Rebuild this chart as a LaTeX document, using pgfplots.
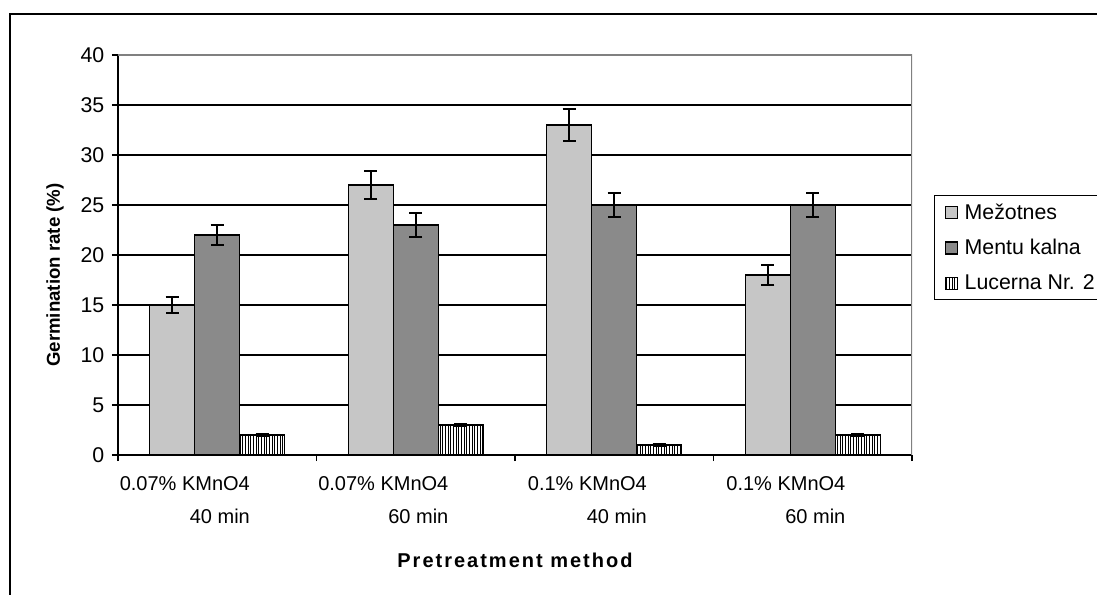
\documentclass[border=0pt]{standalone}
\usepackage{pgfplots}
\pgfplotsset{compat=1.18}
\usetikzlibrary{patterns.meta}
\usepackage{fontspec}
\setmainfont{Liberation Sans}
\definecolor{mezo}{HTML}{C6C6C6}
\definecolor{mentu}{HTML}{8A8A8A}
\newcommand\tfont{\fontsize{15}{24.5}\selectfont}
\newcommand\lfont{\fontsize{16}{19}\selectfont}

\begin{document}
\begin{tikzpicture}
\path[use as bounding box] (0,0) rectangle (822.75pt,-446.25pt);
\clip (0,0) rectangle (822.75pt,-446.25pt);
\fill[white] (0,0) rectangle (822.75pt,-446.25pt);
\draw[line width=1.5pt] (7.5pt,-10.5pt) rectangle (840pt,-460pt);
\begin{axis}[
  at={(88.5pt,-341.25pt)}, anchor=south west,
  scale only axis, width=595.5pt, height=300pt,
  xmin=-0.5, xmax=3.5, ymin=0, ymax=40,
  ybar=0pt, bar width=0.2267,
  axis lines=left,
  axis line style={-, black, line width=1.1pt},
  ytick={0,5,...,40},
  ymajorgrids, grid style={black, line width=1.1pt},
  tick align=outside, major tick length=4.5pt,
  tick style={black, line width=1.1pt},
  xtick={0,1,2,3},
  xticklabels={{0.07\% KMnO4\\40 min},{0.07\% KMnO4\\60 min},{0.1\% KMnO4\\40 min},{0.1\% KMnO4\\60 min}},
  xtick style={draw=none},
  extra x ticks={-0.5,0.5,1.5,2.5,3.5},
  extra x tick labels={},
  extra x tick style={xtick style={draw=black}},
  xticklabel style={align=right, anchor=north east, xshift=28pt, yshift=-8pt, font=\tfont},
  y tick label style={font=\lfont, xshift=-2.2pt},
  /pgf/number format/assume math mode=true,
  every axis x label/.style={at={(axis description cs:0.5,0)}, anchor=base, yshift=-84pt},
  every axis y label/.style={at={(axis description cs:0,0.45)}, rotate=90, anchor=base, yshift=43.5pt},
  xlabel={\fontsize{15}{18}\selectfont\bfseries\addfontfeature{LetterSpace=10}Pretreatment method},
  ylabel={\fontsize{14}{17}\selectfont\bfseries Germination rate (\%)},
  legend style={at={(1.0277,0.65)}, anchor=north west, draw=black, line width=1pt,
    font=\lfont, row sep=9.5pt, inner sep=4pt, legend cell align=left},
  legend image code/.code={\draw[#1, line width=0.9pt] (4pt,-4.5pt) rectangle (13pt,4.5pt);
    \pgfpathmoveto{\pgfpoint{0pt}{0pt}}\pgfpathlineto{\pgfpoint{16.5pt}{0pt}}\pgfusepath{discard}},
]
\addplot[fill=mezo, draw=black, line width=1.1pt,
  error bars/.cd, y dir=both, y explicit,
  error bar style={line width=1.2pt, black},
  error mark options={rotate=90, mark size=5pt, line width=1.2pt, black}]
  coordinates {(0,15) +- (0,0.8) (1,27) +- (0,1.4) (2,33) +- (0,1.6) (3,18) +- (0,1.0)};
\addlegendentry{Mežotnes}
\addplot[fill=mentu, draw=black, line width=1.1pt,
  error bars/.cd, y dir=both, y explicit,
  error bar style={line width=1.2pt, black},
  error mark options={rotate=90, mark size=5pt, line width=1.2pt, black}]
  coordinates {(0,22) +- (0,1.0) (1,23) +- (0,1.2) (2,25) +- (0,1.2) (3,25) +- (0,1.2)};
\addlegendentry{Mentu kalna}
\addplot[fill=white, draw=black, line width=1.1pt, postaction={pattern={Lines[angle=90, distance=2pt, line width=0.6pt]}},
  error bars/.cd, y dir=both, y explicit,
  error bar style={line width=1.2pt, black},
  error mark options={rotate=90, mark size=5pt, line width=1.2pt, black}]
  coordinates {(0,2) +- (0,0.15) (1,3) +- (0,0.15) (2,1) +- (0,0.1) (3,2) +- (0,0.15)};
\addlegendentry{Lucerna Nr. 2}
\draw[gray, line width=1.1pt] (rel axis cs:0,1) -- (rel axis cs:1,1) -- (rel axis cs:1,0);
\end{axis}
\end{tikzpicture}
\end{document}
